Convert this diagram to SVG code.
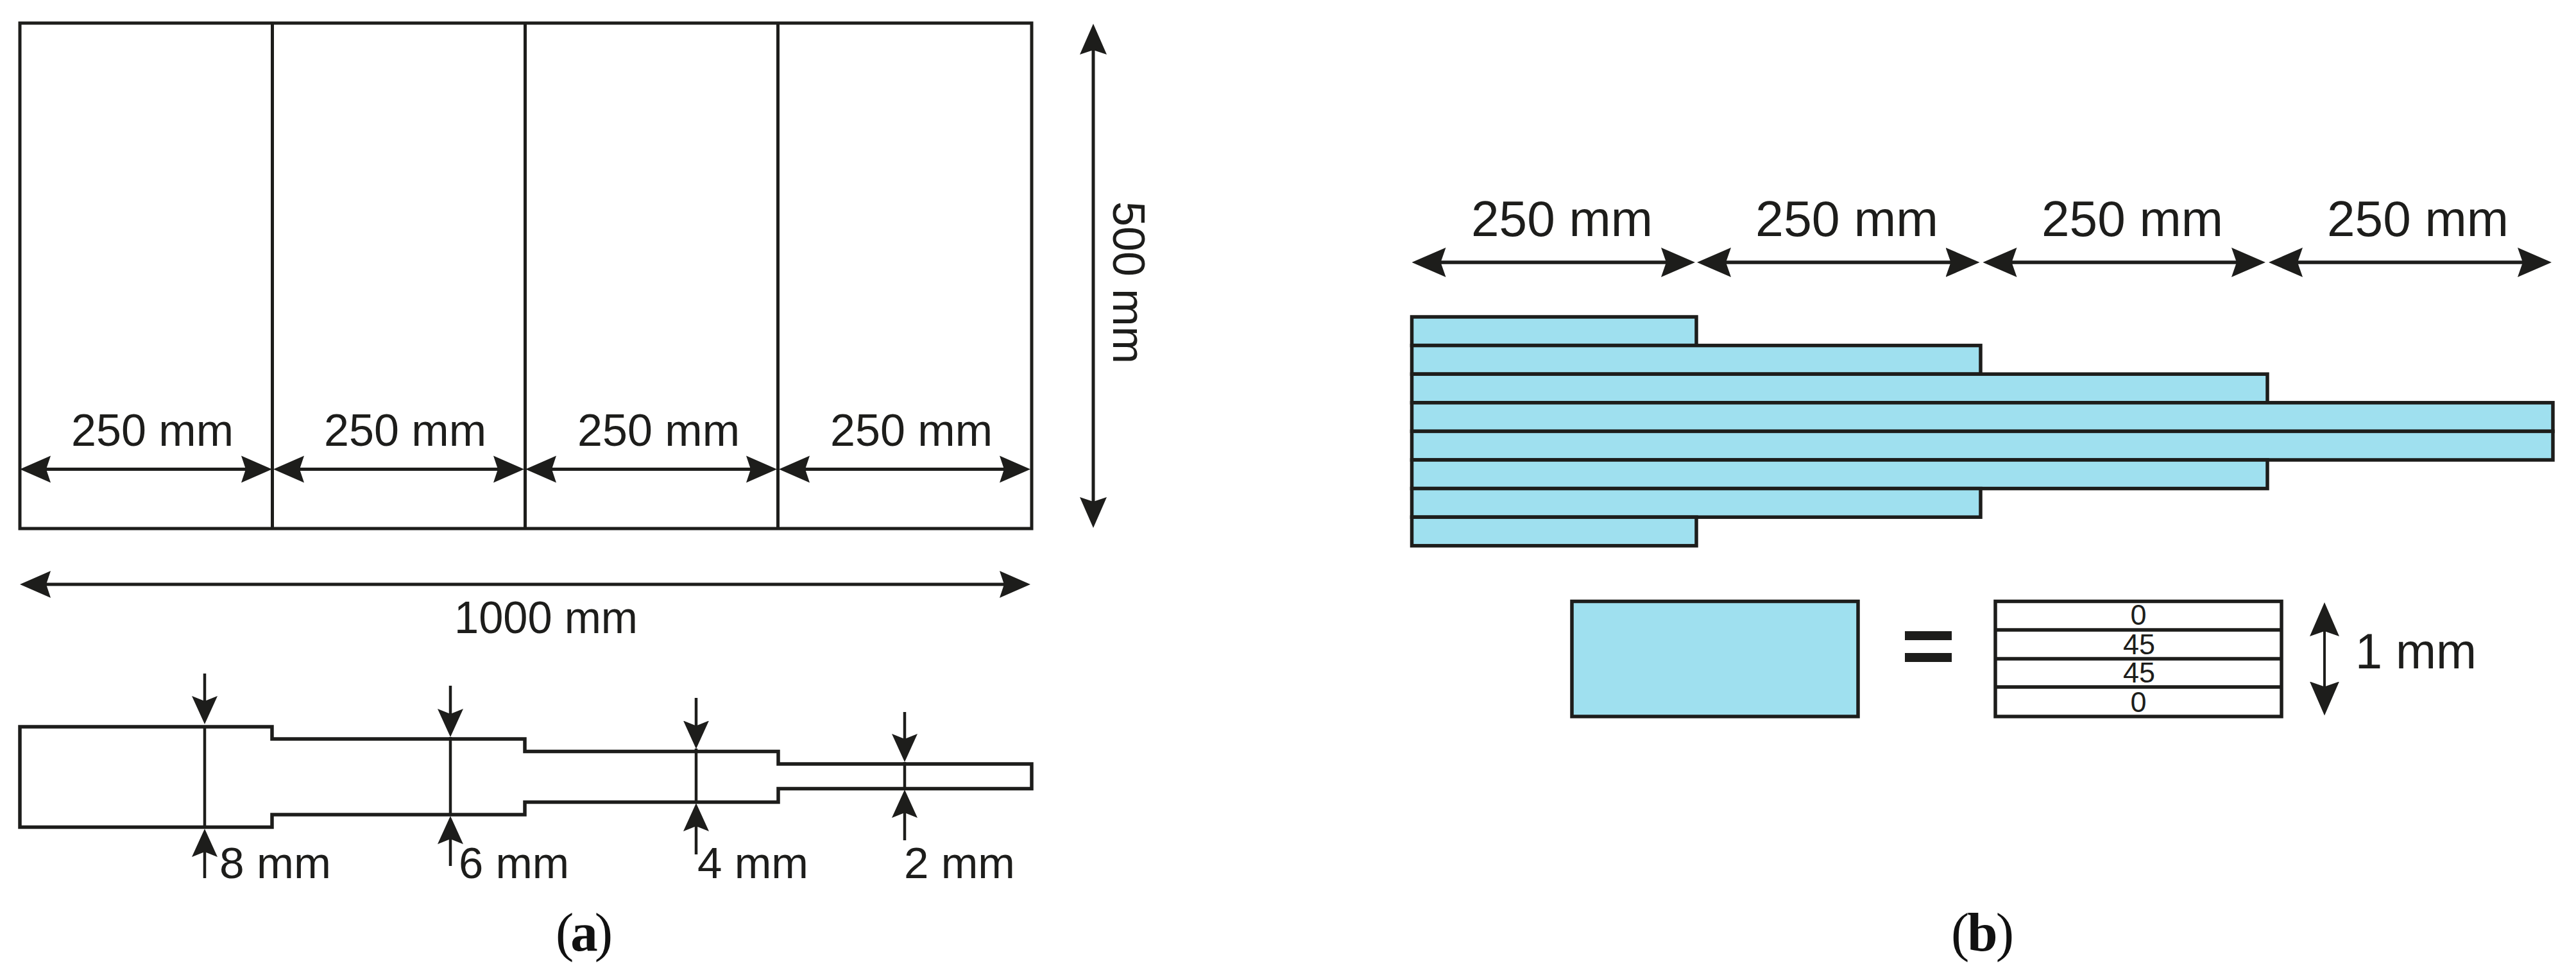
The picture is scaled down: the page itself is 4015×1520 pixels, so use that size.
<svg xmlns="http://www.w3.org/2000/svg" width="4015" height="1520" viewBox="0 0 4015 1520">
<style>
.o{fill:none;stroke:#1d1d1b;stroke-width:5.5}
.b{fill:#9fe0ef;stroke:#1d1d1b;stroke-width:5.5}
.l{fill:none;stroke:#1d1d1b;stroke-width:5;stroke-linejoin:miter}
.a1{fill:none;stroke:#1d1d1b;stroke-width:5;marker-start:url(#m1);marker-end:url(#m1)}
.a2{fill:none;stroke:#1d1d1b;stroke-width:5.5;marker-start:url(#m2);marker-end:url(#m2)}
.a3{fill:none;stroke:#1d1d1b;stroke-width:4.5;marker-end:url(#m3)}
.t{font-family:"Liberation Sans",Arial,sans-serif;fill:#1d1d1b}
.c{font-family:"Liberation Serif","Times New Roman",serif;fill:#111;font-size:85px}
</style>
<defs>
<marker id="m1" markerUnits="userSpaceOnUse" orient="auto-start-reverse" viewBox="0 -22 48 44" refX="38" refY="0" markerWidth="48" markerHeight="44"><path d="M0,-21L48,0L0,21L7,0Z" fill="#1d1d1b"/></marker>
<marker id="m2" markerUnits="userSpaceOnUse" orient="auto-start-reverse" viewBox="0 -24 53 48" refX="43" refY="0" markerWidth="53" markerHeight="48"><path d="M0,-23L53,0L0,23L8,0Z" fill="#1d1d1b"/></marker>
<marker id="m3" markerUnits="userSpaceOnUse" orient="auto-start-reverse" viewBox="0 -21 44 42" refX="34" refY="0" markerWidth="44" markerHeight="42"><path d="M0,-20L44,0L0,20L8,0Z" fill="#1d1d1b"/></marker>
</defs>
<rect width="4015" height="1520" fill="#fff"/>

<g id="panel-sheet">
<rect class="l" x="31" y="36" width="1577" height="788"/>
<path class="l" d="M424.5,36V824M818.5,36V824M1212.5,36V824"/>
</g>
<g id="sheet-labels" class="t" font-size="70">
<text x="111" y="695" textLength="253" lengthAdjust="spacingAndGlyphs">250 mm</text>
<text x="505" y="695" textLength="253" lengthAdjust="spacingAndGlyphs">250 mm</text>
<text x="900" y="695" textLength="253" lengthAdjust="spacingAndGlyphs">250 mm</text>
<text x="1294" y="695" textLength="253" lengthAdjust="spacingAndGlyphs">250 mm</text>
<text x="708" y="987" textLength="286" lengthAdjust="spacingAndGlyphs">1000 mm</text>
<text transform="translate(1735,314) rotate(90)" textLength="253" lengthAdjust="spacingAndGlyphs">500 mm</text>
</g>

<g id="panel-profile">
<path class="o" d="M31,1133H424V1152H818V1171.5H1213V1191H1608V1229.5H1213V1250.5H818V1270H424V1289.5H31Z"/>
</g>
<g id="profile-labels" class="t" font-size="68">
<text x="342" y="1369" textLength="174" lengthAdjust="spacingAndGlyphs">8 mm</text>
<text x="715" y="1369" textLength="172" lengthAdjust="spacingAndGlyphs">6 mm</text>
<text x="1087" y="1369" textLength="173" lengthAdjust="spacingAndGlyphs">4 mm</text>
<text x="1409" y="1369" textLength="173" lengthAdjust="spacingAndGlyphs">2 mm</text>
</g>
<g id="caption-a"><text class="c" x="866" y="1482" textLength="89">(<tspan font-weight="bold">a</tspan>)</text></g>

<g id="panel-stack">
<rect class="b" x="2200.5" y="494" width="443.5" height="44.6"/>
<rect class="b" x="2200.5" y="538.6" width="886.5" height="44.6"/>
<rect class="b" x="2200.5" y="583.2" width="1333.5" height="44.6"/>
<rect class="b" x="2200.5" y="627.8" width="1778.5" height="44.6"/>
<rect class="b" x="2200.5" y="672.4" width="1778.5" height="44.6"/>
<rect class="b" x="2200.5" y="717" width="1333.5" height="44.6"/>
<rect class="b" x="2200.5" y="761.6" width="886.5" height="44.6"/>
<rect class="b" x="2200.5" y="806.2" width="443.5" height="44.6"/>
</g>
<g id="stack-labels" class="t" font-size="78">
<text x="2293" y="368" textLength="283" lengthAdjust="spacingAndGlyphs">250 mm</text>
<text x="2736" y="368" textLength="285" lengthAdjust="spacingAndGlyphs">250 mm</text>
<text x="3182" y="368" textLength="283" lengthAdjust="spacingAndGlyphs">250 mm</text>
<text x="3627" y="368" textLength="283" lengthAdjust="spacingAndGlyphs">250 mm</text>
</g>

<g id="legend-ply"><rect class="b" x="2450" y="937.5" width="446" height="179.5"/></g>
<g id="legend-equals" fill="#1d1d1b"><rect x="2969" y="984" width="73" height="14"/><rect x="2969" y="1018" width="73" height="14"/></g>
<g id="legend-layers">
<rect class="o" x="3110" y="937.5" width="446" height="179.5"/>
<path class="o" d="M3110,982H3556M3110,1027H3556M3110,1071H3556"/>
<g class="t" font-size="45" text-anchor="middle">
<text x="3333" y="974">0</text>
<text x="3334" y="1020">45</text>
<text x="3334" y="1064">45</text>
<text x="3333" y="1110">0</text>
</g>
</g>
<g id="legend-thickness"><text class="t" font-size="77" x="3671" y="1041.5" textLength="189" lengthAdjust="spacingAndGlyphs">1 mm</text></g>
<g id="caption-b"><text class="c" x="3041" y="1482" textLength="98">(<tspan font-weight="bold">b</tspan>)</text></g>

<g id="connectors">
<path class="a1" d="M41,731.5H414"/>
<path class="a1" d="M436,731.5H807"/>
<path class="a1" d="M829,731.5H1201"/>
<path class="a1" d="M1224,731.5H1596"/>
<path class="a1" d="M41,911H1596"/>
<path class="a1" d="M1704,47V813"/>
<path class="a2" d="M2210.5,409H2632"/>
<path class="a2" d="M2655,409H3075.5"/>
<path class="a2" d="M3100.5,409H3521"/>
<path class="a2" d="M3546,409H3967"/>
<path class="a2" d="M3623,949V1105.5" style="stroke-width:4"/>
<path class="a3" d="M319,1050V1119"/><path class="a3" style="marker:none" d="M319,1133V1290"/><path class="a3" d="M319,1369V1302"/>
<path class="a3" d="M702,1069V1139"/><path class="a3" style="marker:none" d="M702,1149V1272"/><path class="a3" d="M702,1350V1282"/>
<path class="a3" d="M1085,1088V1157.5"/><path class="a3" style="marker:none" d="M1085,1167V1252"/><path class="a3" d="M1085,1332V1262"/>
<path class="a3" d="M1410,1110V1178"/><path class="a3" style="marker:none" d="M1410,1188V1231"/><path class="a3" d="M1410,1310V1241"/>
</g>
</svg>
